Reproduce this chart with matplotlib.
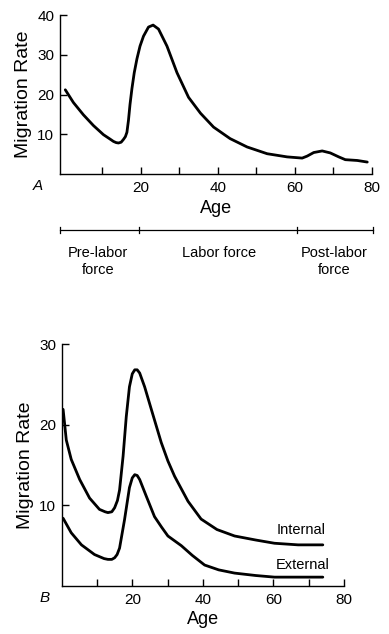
import numpy as np
import matplotlib
matplotlib.use("Agg")
import matplotlib.pyplot as plt
import matplotlib.transforms as mtransforms

plt.rcParams['font.family'] = ['Liberation Sans', 'DejaVu Sans']

# panel A: total migration rate by age
age_a = [0.4, 2.5, 5.1, 7.7, 10.3, 12.0, 12.9, 13.6, 14.2, 14.9, 15.5, 16.0, 16.4, 16.8, 17.2,
         17.7, 18.3, 19.0, 19.8, 20.7, 22.0, 23.2, 24.6, 26.8, 29.4, 32.4, 35.5, 38.9, 43.2,
         47.6, 52.8, 58.0, 61.9, 63.2, 64.9, 67.1, 69.2, 71.4, 73.1, 76.2, 78.8]
rate_a = [21.2, 18.0, 14.9, 12.2, 9.9, 8.8, 8.2, 7.9, 7.8, 8.0, 8.7, 9.4, 10.5, 13.5, 17.5,
          21.5, 25.5, 29.0, 32.2, 34.7, 37.0, 37.5, 36.5, 32.2, 25.5, 19.3, 15.3, 11.8, 8.9,
          6.8, 5.1, 4.3, 4.0, 4.5, 5.4, 5.8, 5.3, 4.3, 3.6, 3.4, 3.0]

# panel B: internal and external migration
age_int = [0.4, 1.3, 2.7, 5.1, 7.9, 10.7, 12.3, 13.1, 14.2, 15.0, 15.8, 16.4, 17.4, 18.3, 19.2,
           20.0, 20.7, 21.4, 22.1, 23.5, 25.4, 28.2, 30.1, 32.0, 35.8, 39.5, 44.0, 49.0,
           55.0, 60.3, 67.0, 74.0]
rate_int = [21.9, 18.1, 15.7, 13.2, 10.9, 9.5, 9.2, 9.1, 9.2, 9.7, 10.6, 11.9, 16.1, 21.0, 24.7,
            26.3, 26.8, 26.8, 26.4, 24.7, 21.9, 17.8, 15.5, 13.6, 10.5, 8.3, 7.0, 6.2,
            5.7, 5.3, 5.1, 5.1]
age_ext = [0.4, 2.7, 5.6, 9.3, 12.0, 13.1, 14.2, 15.0, 15.7, 16.4, 17.8, 19.2, 20.0, 20.7,
           21.4, 22.1, 24.0, 26.3, 28.3, 30.1, 33.9, 37.0, 40.5, 44.5, 49.0, 55.0, 60.3, 67.0,
           74.0]
rate_ext = [8.4, 6.6, 5.1, 3.9, 3.4, 3.3, 3.3, 3.5, 3.9, 4.7, 8.2, 12.2, 13.4, 13.8,
            13.7, 13.2, 11.1, 8.6, 7.3, 6.2, 5.0, 3.8, 2.6, 2.0, 1.6, 1.3, 1.1, 1.1, 1.1]

phase_edges = [-1, 19.5, 60.5, 80.2]
phase_labels = ["Pre-labor\nforce", "Labor force", "Post-labor\nforce"]
phase_label_x = [8.8, 40.2, 70.2]

fig = plt.figure(figsize=(3.89, 6.34), dpi=100)

lw_curve = 2.0
lw_axis = 1.0


def style_axes(ax, xmin, xmax, ymax, yticks, xpad):
    for s in ['top', 'right']:
        ax.spines[s].set_visible(False)
    for s in ['left', 'bottom']:
        ax.spines[s].set_linewidth(lw_axis)
    ax.set_xlim(xmin, xmax)
    ax.set_ylim(0, ymax)
    ax.set_xticks([20, 40, 60, 80])
    ax.set_xticks([10, 30, 50, 70], minor=True)
    ax.set_yticks(yticks)
    ax.tick_params(axis='both', which='both', direction='in', length=5, width=lw_axis,
                   labelsize=11, pad=4)
    ax.tick_params(axis='x', which='major', pad=5)
    ax.tick_params(axis='y', which='minor', length=0)
    ax.set_xlabel("Age", fontsize=13, labelpad=xpad)
    ax.set_ylabel("Migration Rate", fontsize=14, labelpad=4)


axA = fig.add_axes([0.154, 0.7256, 0.802, 0.2505])
axA.plot(age_a, rate_a, color='black', lw=lw_curve, solid_joinstyle='round', solid_capstyle='round')
style_axes(axA, -1, 80, 40, [10, 20, 30, 40], 4)
axA.text(-0.07, -0.075, "A", transform=axA.transAxes, fontsize=11, style='italic',
         ha='center', va='center')

# labor phase bracket below panel A
tr = mtransforms.blended_transform_factory(axA.transData, fig.transFigure)
yb = 1 - 230 / 634
axA.plot([phase_edges[0], phase_edges[-1]], [yb, yb], color='black', lw=0.9,
         transform=tr, clip_on=False)
for e in phase_edges:
    axA.plot([e, e], [yb - 0.005, yb + 0.005], color='black', lw=0.9,
             transform=tr, clip_on=False)
for lx, lab in zip(phase_label_x, phase_labels):
    axA.text(lx, yb - 0.026, lab, transform=tr, ha='center', va='top', fontsize=10.5,
             linespacing=1.2)

axB = fig.add_axes([0.1586, 0.0757, 0.7257, 0.3817])
axB.plot(age_int, rate_int, color='black', lw=lw_curve, solid_joinstyle='round', solid_capstyle='round')
axB.plot(age_ext, rate_ext, color='black', lw=lw_curve, solid_joinstyle='round', solid_capstyle='round')
style_axes(axB, 0, 80, 30, [10, 20, 30], 3)
axB.text(60.8, 7.0, "Internal", ha='left', va='center', fontsize=10.5)
axB.text(60.8, 2.65, "External", ha='left', va='center', fontsize=10.5)
axB.text(-0.06, -0.05, "B", transform=axB.transAxes, fontsize=11, style='italic',
         ha='center', va='center')

fig.savefig("out.png", dpi=100)
